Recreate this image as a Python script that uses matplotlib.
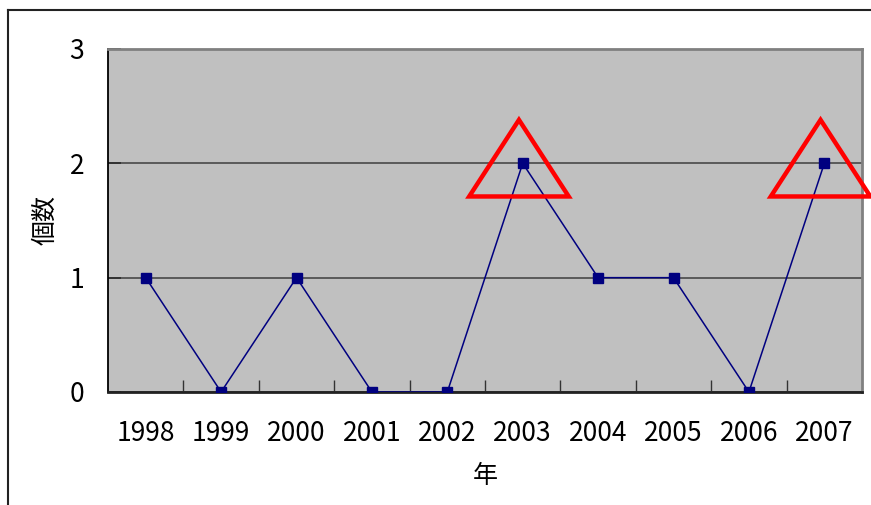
import matplotlib.pyplot as plt
from matplotlib.lines import Line2D
from matplotlib.patches import Polygon

plt.rcParams['font.family'] = ['Noto Sans CJK JP', 'DejaVu Sans']

# 年ごとの個数
years = ['1998', '1999', '2000', '2001', '2002', '2003', '2004', '2005', '2006', '2007']
counts = [1, 0, 1, 0, 0, 2, 1, 1, 0, 2]
# 強調する年
highlight_years = ['2003', '2007']

fig = plt.figure(figsize=(8.71, 5.05), dpi=100)
ax = fig.add_axes([0.124, 0.2238, 0.8657, 0.6792])
ax.set_facecolor('#C0C0C0')

xs = list(range(len(years)))
ax.plot(xs, counts, color='#000080', lw=1.1, marker='s', ms=7,
        markerfacecolor='#000080', markeredgecolor='#000080', zorder=3)

ax.set_xlim(-0.5, len(years) - 0.5)
ax.set_ylim(0, 3)
ax.set_yticks([0, 1, 2, 3])
ax.yaxis.grid(True, color='#5a5a5a', lw=1.4)
ax.set_axisbelow(True)

# 区切りの目盛りと年のラベル
ax.set_xticks([i + 0.5 for i in xs[:-1]])
ax.set_xticklabels([])
ax.set_xticks(xs, minor=True)
ax.set_xticklabels(years, minor=True, fontsize=19)
ax.tick_params(axis='x', which='major', direction='in', length=9, width=1, color='#333333')
ax.tick_params(axis='x', which='minor', length=0, pad=20)
ax.tick_params(axis='y', direction='in', length=9, width=1.4, color='#333333',
               labelsize=19, pad=17)

ax.spines['left'].set_color('black')
ax.spines['left'].set_linewidth(1.3)
ax.spines['bottom'].set_color('#222222')
ax.spines['bottom'].set_linewidth(2)
ax.spines['top'].set_color('#808080')
ax.spines['top'].set_linewidth(2)
ax.spines['right'].set_color('#808080')
ax.spines['right'].set_linewidth(2)

ax.set_ylabel('個数', fontsize=18, labelpad=8)
ax.set_xlabel('年', fontsize=18, labelpad=12)

# 赤い三角形で強調
for yr in highlight_years:
    cx = years.index(yr) - 0.05
    tri = Polygon([(cx - 0.66, 1.71), (cx + 0.66, 1.71), (cx, 2.38)], closed=True,
                  fill=False, edgecolor='#FF0000', lw=3.2, joinstyle='miter',
                  clip_on=False, zorder=4)
    ax.add_patch(tri)

# 外枠
fig.add_artist(Line2D([8 / 871, 8 / 871], [0, 1 - 10 / 505], color='#222222', lw=1.5))
fig.add_artist(Line2D([8 / 871, 1], [1 - 10 / 505, 1 - 10 / 505], color='#222222', lw=1.5))

fig.savefig('out.png', dpi=100)
